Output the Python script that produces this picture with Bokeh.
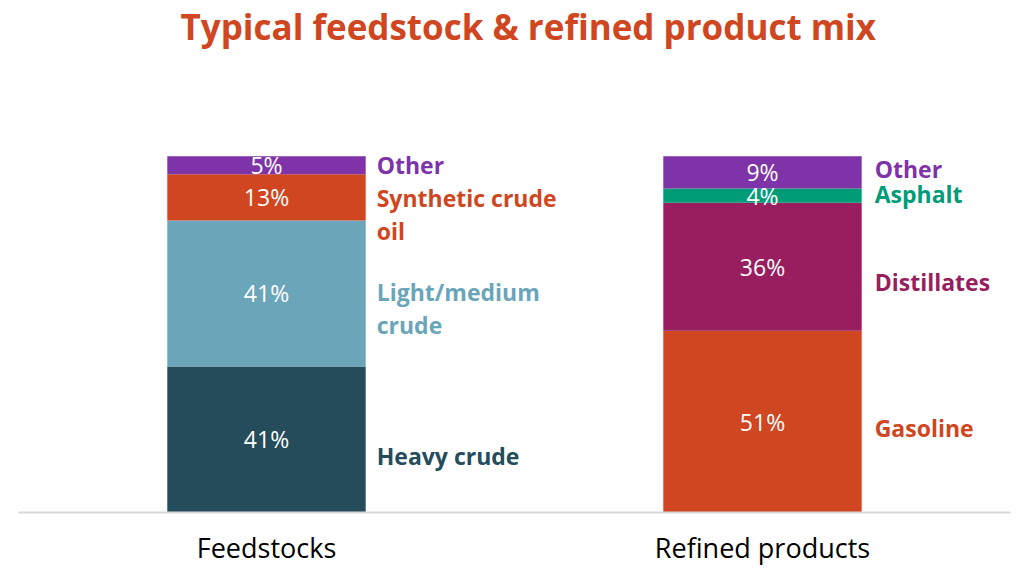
from bokeh.plotting import figure
from bokeh.models import FactorRange, Range1d, ColumnDataSource
from bokeh.core.properties import value
from bokeh.embed import file_html
from bokeh.resources import INLINE

categories = ["Feedstocks", "Refined products"]

feed_names = ["Heavy crude", "Light/medium\ncrude", "Synthetic crude\noil", "Other"]
feed_values = [41, 41, 13, 5]
feed_colors = ["#254C5A", "#6BA5B9", "#D04620", "#7F33A8"]

prod_names = ["Gasoline", "Distillates", "Asphalt", "Other"]
prod_values = [51, 36, 4, 9]
prod_colors = ["#D04620", "#981E60", "#009B77", "#7F33A8"]

# pixel nudges for the series name labels (style only, positive = down)
feed_label_dy = [17, 15, 17, 0]
prod_label_dy = [6, 15, -2, -3]

FONT = "Open Sans"

p = figure(width=1017, height=568, output_backend="svg", toolbar_location=None,
           x_range=FactorRange(*categories, range_padding=0),
           y_range=Range1d(0, 130),
           min_border_left=18, min_border_right=7, min_border_bottom=55, min_border_top=0,
           title="Typical feedstock & refined product mix")
p.title.align = "left"
p.title.text_font = FONT
p.title.text_font_style = "bold"
p.title.text_font_size = "35px"
p.title.text_color = "#D04620"
p.title.offset = 162
p.title.standoff = 0

p.outline_line_color = None
p.grid.visible = False
p.yaxis.visible = False
p.xaxis.axis_line_color = "#D9D9D9"
p.xaxis.axis_line_width = 2
p.xaxis.major_tick_line_color = None
p.xaxis.minor_tick_line_color = None
p.xaxis.major_tick_out = 0
p.xaxis.major_tick_in = 0
p.xaxis.major_label_text_font = FONT
p.xaxis.major_label_text_font_size = "27px"
p.xaxis.major_label_text_color = "#000000"
p.xaxis.major_label_text_line_height = 0.7
p.xaxis.major_label_standoff = 16

bar_w = 0.4


def stack(cat, names, vals, colors, dys):
    bottoms, tops, mids = [], [], []
    acc = 0
    for v in vals:
        bottoms.append(acc)
        acc += v
        tops.append(acc)
        mids.append((bottoms[-1] + acc) / 2)
    src = ColumnDataSource(dict(
        x=[cat] * len(vals), bottom=bottoms, top=tops, mid=mids, color=colors,
        pct=[f"{v}%" for v in vals], name=names, dy=dys,
        lx=[(cat, bar_w / 2)] * len(vals)))
    p.vbar(x="x", bottom="bottom", top="top", width=bar_w, fill_color="color",
           line_color=None, source=src)
    p.text(x="x", y="mid", text="pct", source=src, text_color="white",
           text_align="center", text_baseline="middle",
           text_font=value(FONT), text_font_size="23px")
    return src


fsrc = stack("Feedstocks", feed_names, feed_values, feed_colors, feed_label_dy)
psrc = stack("Refined products", prod_names, prod_values, prod_colors, prod_label_dy)

for src, dx in ((fsrc, 11), (psrc, 13)):
    p.text(x="lx", y="mid", text="name", source=src, text_color="color",
           x_offset=dx, y_offset="dy", text_align="left", text_baseline="middle",
           text_font=value(FONT), text_font_style="bold", text_font_size="23px",
           text_line_height=1.02)

open("out.html", "w").write(file_html(p, INLINE))
